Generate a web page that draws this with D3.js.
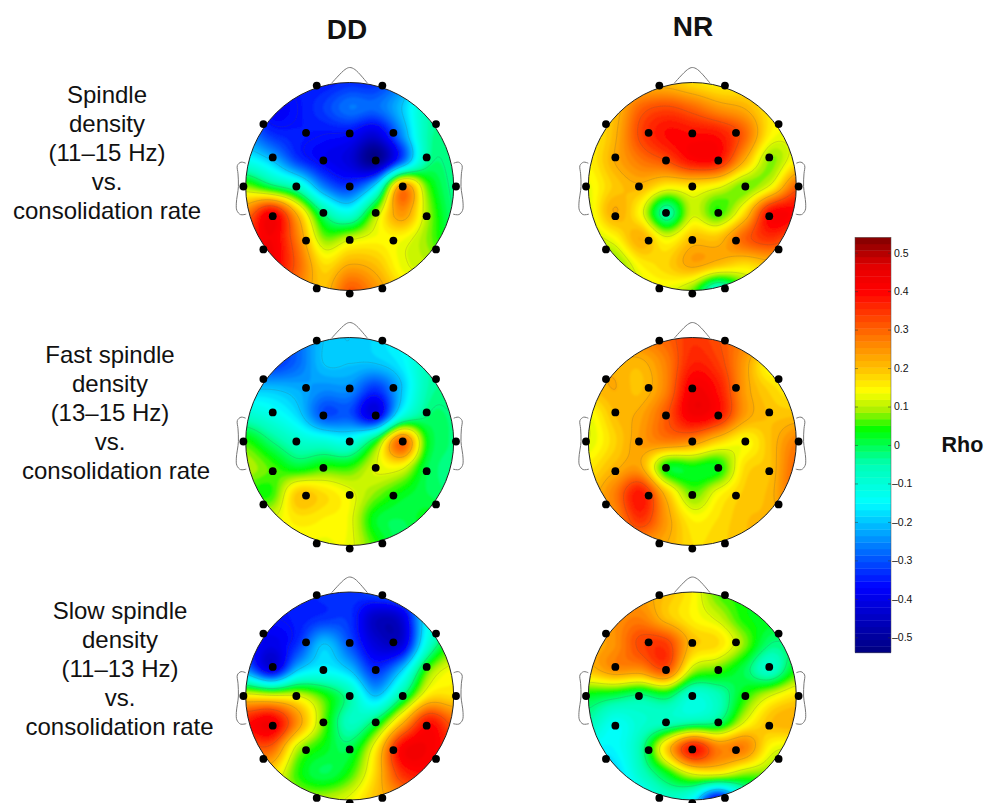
<!DOCTYPE html>
<html>
<head>
<meta charset="utf-8">
<script src="https://cdnjs.cloudflare.com/ajax/libs/d3/7.8.5/d3.min.js"></script>
<style>
html, body { margin: 0; padding: 0; background: #fff; overflow: hidden; }
svg { display: block; }
text { font-family: "Liberation Sans", Arial, sans-serif; fill: #111; }
</style>
</head>
<body>
<div id="chart"></div>
<script>
// electrode names and positions, in head radii from the head centre
var electrodes = ["Fp1","Fp2","F7","F3","Fz","F4","F8","FC5","FC1","FC2","FC6","T7","C3","Cz","C4","T8","CP5","CP1","CP2","CP6","P7","P3","Pz","P4","P8","O1","Oz","O2"];
var electrodeX = [-.317,.314,-.83,-.42,0,.42,.83,-.74,-.253,.25,.74,-1.022,-.513,0,.51,1.022,-.74,-.253,.25,.74,-.83,-.42,0,.42,.83,-.317,0,.314];
var electrodeY = [-.97,-.97,-.6,-.516,-.51,-.516,-.6,-.28,-.25,-.25,-.28,0,0,0,0,0,.285,.253,.253,.285,.605,.52,.514,.52,.605,.98,1.03,.98];

// nose and left ear outline, same units
var noseX = [-.173,-.045,0,.05,.17];
var noseY = [-.994,-1.125,-1.144,-1.125,-.994];
var earX = [-1,-1.045,-1.08,-1.074,-1.07,-1.09,-1.085,-1.05,-.995];
var earY = [-.224,-.234,-.202,-.122,0,.16,.23,.27,.266];

var columnLabels = ["DD", "NR"];
var rowLabels = [
  ["Spindle", "density", "(11\u201315 Hz)", "vs.", "consolidation rate"],
  ["Fast spindle", "density", "(13\u201315 Hz)", "vs.", "consolidation rate"],
  ["Slow spindle", "density", "(11\u201313 Hz)", "vs.", "consolidation rate"]
];

var colorTicks = [0.5,0.4,0.3,0.2,0.1,0,-0.1,-0.2,-0.3,-0.4,-0.5];
var colorStops = [-0.54,-0.37,-0.28,-0.15,-0.05,0.04,0.09,0.14,0.2,0.27,0.4,0.46,0.54];
var colorValues = ["#00007f","#0000ff","#0068ff","#00ffff","#00ffb4","#00ff00","#a8f000","#ffff00","#ffc000","#ff8000","#ff0000","#e80000","#7f0000"];

// rho on a 9x9 sample grid, rows top to bottom, columns left to right
var rhoSpindleDD = [
  [-.3,-.35,-.35,-.35,-.33,-.33,-.25,-.12,-.1],
  [-.3,-.38,-.36,-.32,-.27,-.28,-.2,-.06,-.05],
  [-.25,-.33,-.35,-.36,-.37,-.42,-.25,-.05,-.03],
  [-.13,-.2,-.32,-.38,-.42,-.52,-.3,-.04,-.03],
  [.08,0,-.08,-.26,-.32,-.17,.25,.06,-.03],
  [.27,.4,.2,-.03,-.12,.08,.25,.09,-.02],
  [.35,.42,.27,.08,.11,.14,.14,.08,0],
  [.4,.42,.3,.17,.22,.2,.13,.1,.05],
  [.35,.35,.27,.2,.31,.25,.17,.12,.05]
];
var rhoSpindleNR = [
  [.2,.2,.2,.2,.17,.15,.15,.15,.15],
  [.2,.2,.3,.33,.3,.25,.22,.16,.15],
  [.15,.21,.33,.39,.39,.38,.3,.15,.13],
  [.15,.22,.28,.32,.39,.38,.22,.08,.15],
  [.13,.19,.21,.15,.16,.13,.07,.13,.3],
  [.12,.22,.14,-.05,.11,.05,.17,.39,.4],
  [.1,.14,.22,.13,.2,.2,.3,.35,.3],
  [.05,.06,.15,.18,.23,.2,.17,.2,.2],
  [0,.03,.11,.13,.07,-.1,.05,.13,.15]
];
var rhoFastDD = [
  [-.35,-.35,-.28,-.2,-.2,-.18,-.14,-.1,-.05],
  [-.32,-.33,-.28,-.2,-.2,-.2,-.16,-.06,-.03],
  [-.2,-.2,-.22,-.25,-.25,-.33,-.2,-.05,-.03],
  [-.08,-.12,-.18,-.3,-.3,-.4,-.12,-.02,-.02],
  [.05,-.02,-.08,-.1,-.12,.03,.3,.03,-.02],
  [.1,.06,.02,.05,.05,.12,.13,0,-.02],
  [.05,.05,.19,.17,.13,.08,.03,0,-.02],
  [.12,.12,.16,.15,.13,.02,0,.03,.02],
  [.12,.12,.13,.13,.13,.05,-.01,.03,.03]
];
var rhoFastNR = [
  [.22,.25,.27,.3,.35,.32,.27,.24,.2],
  [.22,.22,.21,.27,.37,.34,.24,.14,.18],
  [.2,.22,.2,.27,.42,.38,.24,.18,.15],
  [.13,.2,.23,.31,.42,.38,.24,.2,.2],
  [.12,.18,.24,.27,.25,.18,.14,.2,.27],
  [.16,.21,.23,.03,.03,.03,.17,.2,.3],
  [.2,.27,.38,.2,.07,.14,.19,.21,.3],
  [.22,.25,.35,.24,.15,.17,.2,.21,.25],
  [.25,.25,.24,.22,.17,.18,.2,.22,.22]
];
var rhoSlowDD = [
  [-.35,-.35,-.35,-.33,-.33,-.3,-.25,-.15,-.1],
  [-.35,-.36,-.35,-.33,-.33,-.45,-.42,-.15,-.1],
  [-.35,-.4,-.33,-.2,-.3,-.42,-.42,-.1,.05],
  [-.25,-.4,-.2,-.15,-.2,-.33,-.2,.06,.14],
  [.15,.13,.12,.05,-.05,-.2,-.03,.16,.17],
  [.38,.42,.25,.07,-.07,0,.2,.38,.3],
  [.3,.3,.1,.03,0,.15,.4,.42,.35],
  [.2,.17,.05,0,.05,.18,.35,.38,.3],
  [.15,.12,.1,.1,.13,.2,.25,.28,.25]
];
var rhoSlowNR = [
  [.22,.23,.23,.2,.15,.06,.04,.02,.02],
  [.22,.25,.27,.2,.15,.11,.04,.03,.02],
  [.22,.25,.33,.34,.2,.17,.08,-.02,-.01],
  [.2,.25,.25,.31,.1,.06,0,-.08,.04],
  [.02,0,-.03,0,-.1,-.06,.04,.12,.17],
  [-.05,-.13,-.09,-.07,-.05,-.02,.12,.2,.22],
  [-.15,-.15,-.05,.18,.38,.27,.27,.14,.12],
  [-.22,-.2,-.08,.02,.12,.13,.08,.07,.05],
  [-.22,-.27,-.17,-.08,-.15,-.4,-.12,-.02,.03]
];
var mapGrids = [[rhoSpindleDD, rhoSpindleNR], [rhoFastDD, rhoFastNR], [rhoSlowDD, rhoSlowNR]];

var contourLevels = [-.36,-.2,-.02,.12,.22,.32];

var width = 985, height = 803;
var headRadius = 104;
var columnX = [349.7, 692.3];
var rowY = [186.5, 441.5, 696];
var labelX = [[107, 110, 120], [107, 116, 119.5]];

var svg = d3.select("#chart").append("svg")
  .attr("width", width)
  .attr("height", height);

var defs = svg.append("defs");
defs.append("clipPath").attr("id", "headClip")
  .append("circle").attr("r", headRadius);
// the maps are soft in the reference, so take the hard edge off the colour bands
defs.append("filter").attr("id", "soft")
  .attr("x", "-5%").attr("y", "-5%").attr("width", "110%").attr("height", "110%")
  .append("feGaussianBlur").attr("stdDeviation", 0.8);

// jet-like colours, stepped into 64 bands like the colorbar
var bandCount = 64;
var rhoMin = -0.54, rhoMax = 0.54;
var jet = d3.scaleLinear().domain(colorStops).range(colorValues).clamp(true);
var bandEdges = d3.range(bandCount).map(function(i) { return rhoMin + i * (rhoMax - rhoMin) / bandCount; });
var bandStep = (rhoMax - rhoMin) / bandCount;

// Catmull-Rom through the sample grid
function cubic(a, b, c, d, t) {
  return b + 0.5 * t * (c - a + t * (2 * a - 5 * b + 4 * c - d + t * (3 * (b - c) + d - a)));
}
function sampleGrid(grid, u, v) {
  var n = grid.length - 1;
  var gx = (u + 1) / 2 * n, gy = (v + 1) / 2 * n;
  var ix = Math.min(n - 1, Math.max(0, Math.floor(gx))), iy = Math.min(n - 1, Math.max(0, Math.floor(gy)));
  var at = function(r, c) { return grid[Math.max(0, Math.min(n, r))][Math.max(0, Math.min(n, c))]; };
  var rows = [];
  for (var r = -1; r <= 2; r++) {
    rows.push(cubic(at(iy + r, ix - 1), at(iy + r, ix), at(iy + r, ix + 1), at(iy + r, ix + 2), gx - ix));
  }
  return cubic(rows[0], rows[1], rows[2], rows[3], gy - iy);
}

var fieldSize = 120;
var fieldScale = d3.scaleLinear().domain([0, fieldSize - 1]).range([-1.04, 1.04]);

function drawHead(grid, cx, cy) {
  var head = svg.append("g").attr("transform", "translate(" + cx + "," + cy + ")");
  var x = d3.scaleLinear().domain([-1, 1]).range([-headRadius, headRadius]);
  var y = d3.scaleLinear().domain([-1, 1]).range([-headRadius, headRadius]);

  // nose and ears
  var outline = d3.line().curve(d3.curveCatmullRom.alpha(0.5));
  head.append("path")
    .attr("d", outline(noseX.map(function(d, i) { return [x(d), y(noseY[i])]; })))
    .attr("fill", "none").attr("stroke", "#777").attr("stroke-width", 1);
  [-1, 1].forEach(function(side) {
    head.append("path")
      .attr("d", outline(earX.map(function(d, i) { return [x(side * d), y(earY[i])]; })))
      .attr("fill", "none").attr("stroke", "#777").attr("stroke-width", 1);
  });

  // smooth field
  var values = [];
  for (var j = 0; j < fieldSize; j++) {
    for (var i = 0; i < fieldSize; i++) {
      values.push(sampleGrid(grid, Math.max(-1, Math.min(1, fieldScale(i))), Math.max(-1, Math.min(1, fieldScale(j)))));
    }
  }
  var contours = d3.contours().size([fieldSize, fieldSize]);
  var path = d3.geoPath(d3.geoTransform({
    point: function(px, py) { this.stream.point(x(fieldScale(px - 0.5)), y(fieldScale(py - 0.5))); }
  }));

  var maps = head.append("g").attr("clip-path", "url(#headClip)");
  maps.append("g").attr("filter", "url(#soft)")
    .selectAll("path.band")
    .data(contours.thresholds(bandEdges.map(function(d, i) { return i == 0 ? -5 : d; }))(values))
    .enter().append("path")
    .attr("class", "band")
    .attr("d", path)
    .attr("fill", function(d, i) { return jet(bandEdges[i] + bandStep / 2); })
    .attr("stroke", function(d, i) { return jet(bandEdges[i] + bandStep / 2); })
    .attr("stroke-width", 0.3);

  maps.selectAll("path.level")
    .data(contours.thresholds(contourLevels)(values))
    .enter().append("path")
    .attr("class", "level")
    .attr("d", path)
    .attr("fill", "none")
    .attr("stroke", "#555")
    .attr("stroke-opacity", 0.3)
    .attr("stroke-width", 0.6);

  head.append("circle")
    .attr("r", headRadius)
    .attr("fill", "none")
    .attr("stroke", "#222")
    .attr("stroke-width", 1);

  head.selectAll("circle.electrode")
    .data(electrodes)
    .enter().append("circle")
    .attr("class", "electrode")
    .attr("cx", function(d, i) { return x(electrodeX[i]); })
    .attr("cy", function(d, i) { return y(electrodeY[i]); })
    .attr("r", 3.9)
    .attr("fill", "#000");
}

mapGrids.forEach(function(row, r) {
  row.forEach(function(grid, c) { drawHead(grid, columnX[c], rowY[r]); });
});

// column titles
svg.append("text").attr("x", 347).attr("y", 39).attr("text-anchor", "middle")
  .attr("font-size", 28).attr("font-weight", "bold").text(columnLabels[0]);
svg.append("text").attr("x", 693).attr("y", 36).attr("text-anchor", "middle")
  .attr("font-size", 28).attr("font-weight", "bold").text(columnLabels[1]);

// row labels
var rowTop = [103, 363, 619];
rowLabels.forEach(function(lines, r) {
  lines.forEach(function(txt, i) {
    var isLast = i == lines.length - 1;
    svg.append("text")
      .attr("x", isLast ? labelX[1][r] : labelX[0][r])
      .attr("y", rowTop[r] + i * 29.1)
      .attr("text-anchor", "middle")
      .attr("font-size", 24)
      .text(txt);
  });
});

// colorbar
var barX = 855, barW = 36;
var barY = d3.scaleLinear().domain([rhoMin, rhoMax]).range([652.7, 237.3]);
svg.append("g").selectAll("rect")
  .data(bandEdges)
  .enter().append("rect")
  .attr("x", barX)
  .attr("width", barW)
  .attr("y", function(d) { return barY(d + bandStep); })
  .attr("height", function(d) { return barY(d) - barY(d + bandStep) + 0.4; })
  .attr("fill", function(d) { return jet(d + bandStep / 2); });
svg.append("rect").attr("x", barX).attr("y", barY(rhoMax)).attr("width", barW)
  .attr("height", barY(rhoMin) - barY(rhoMax)).attr("fill", "none").attr("stroke", "#555").attr("stroke-width", 0.5);

var axisR = d3.axisRight(barY)
  .tickValues(colorTicks)
  .tickSize(-3)
  .tickPadding(3)
  .tickFormat(function(d) { return (d < 0 ? "\u2013" : "") + Math.abs(d); });
var axisG = svg.append("g").attr("transform", "translate(" + (barX + barW) + ",0)").call(axisR);
axisG.select(".domain").remove();
axisG.selectAll("line").attr("stroke", "#333").attr("stroke-width", 0.5);
axisG.selectAll("text")
  .attr("font-size", 10.5)
  .attr("font-family", "Liberation Sans")
  .attr("fill", "#222")
  .attr("x", function(d) { return d < 0 ? 1 : 3; });
var axisL = d3.axisLeft(barY).tickValues(colorTicks).tickSize(-3).tickFormat("");
var axisLG = svg.append("g").attr("transform", "translate(" + barX + ",0)").call(axisL);
axisLG.select(".domain").remove();
axisLG.selectAll("line").attr("stroke", "#333").attr("stroke-width", 0.5);

svg.append("text").attr("x", 941.5).attr("y", 452)
  .attr("font-size", 21.5).attr("font-weight", "bold").text("Rho");
</script>
</body>
</html>
